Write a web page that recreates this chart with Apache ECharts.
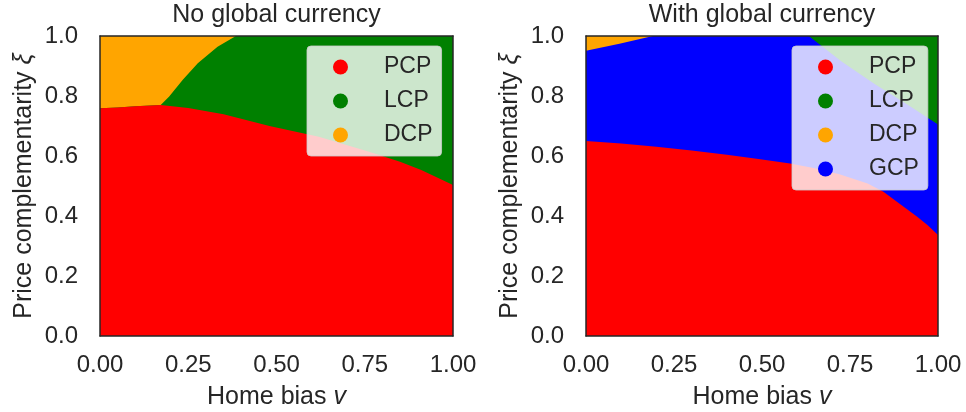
<!DOCTYPE html>
<html>
<head>
<meta charset="utf-8">
<script src="https://cdn.jsdelivr.net/npm/echarts@6/dist/echarts.min.js"></script>
<style>
  html, body { margin: 0; padding: 0; background: #ffffff; }
  #chart { width: 966px; height: 412px; }
</style>
</head>
<body>
<div id="chart"></div>
<script>
// ---- labels ----
const panelTitles = ['No global currency', 'With global currency'];
const xTickLabels = ['0.00', '0.25', '0.50', '0.75', '1.00'];
const yTickLabels = ['0.0', '0.2', '0.4', '0.6', '0.8', '1.0'];
const regimeColors = { PCP: '#ff0000', LCP: '#008000', DCP: '#ffa500', GCP: '#0000ff' };

// ---- axis domain (home bias v, price complementarity xi) ----
const vRange = [0, 1];
const xiRange = [0, 1];

// ---- No global currency: regime frontiers ----
// upper edge of the PCP region
const pcpEdgeV1  = [0.000, 0.050, 0.100, 0.172, 0.250, 0.350, 0.480, 0.620, 0.760, 0.850, 0.910, 1.000];
const pcpEdgeXi1 = [0.759, 0.762, 0.766, 0.770, 0.760, 0.739, 0.700, 0.664, 0.615, 0.581, 0.553, 0.503];
// frontier between DCP (left) and LCP (right)
const dcpLcpV1  = [0.172, 0.196, 0.234, 0.277, 0.333, 0.385];
const dcpLcpXi1 = [0.770, 0.798, 0.853, 0.909, 0.964, 1.000];

// ---- With global currency: regime frontiers ----
// upper edge of the PCP region
const pcpEdgeV2  = [0.000, 0.100, 0.200, 0.300, 0.400, 0.490, 0.580, 0.650, 0.720, 0.800, 0.845, 0.890, 0.940, 0.970, 1.000];
const pcpEdgeXi2 = [0.650, 0.642, 0.631, 0.618, 0.604, 0.590, 0.575, 0.559, 0.539, 0.508, 0.481, 0.442, 0.398, 0.370, 0.337];
// frontier between DCP (top-left corner) and GCP
const dcpGcpV2  = [0.000, 0.095, 0.190];
const dcpGcpXi2 = [0.951, 0.974, 1.000];
// frontier between GCP and LCP (top-right corner)
const lcpGcpV2  = [0.633, 0.726, 0.820, 0.915, 1.000];
const lcpGcpXi2 = [1.000, 0.915, 0.840, 0.770, 0.705];

const zip = (a, b) => a.map((v, i) => [v, b[i]]);

// ---- region outlines built from the frontiers ----
const [v0, v1] = vRange, [x0, x1] = xiRange;
const square = [[v0, x0], [v1, x0], [v1, x1], [v0, x1]];

const pcp1 = zip(pcpEdgeV1, pcpEdgeXi1);
const dcpLcp1 = zip(dcpLcpV1, dcpLcpXi1);
const regions1 = [
  ['LCP', square],
  ['DCP', [[v0, x1]].concat(pcp1.filter(p => p[0] <= dcpLcpV1[0]), dcpLcp1)],
  ['PCP', [[v0, x0], [v1, x0]].concat(pcp1.slice().reverse())]
];

const pcp2 = zip(pcpEdgeV2, pcpEdgeXi2);
const regions2 = [
  ['GCP', square],
  ['DCP', [[v0, x1]].concat(zip(dcpGcpV2, dcpGcpXi2))],
  ['LCP', zip(lcpGcpV2, lcpGcpXi2).concat([[v1, x1]])],
  ['PCP', [[v0, x0], [v1, x0]].concat(pcp2.slice().reverse())]
];

// ---- styling ----
const ink = '#262626';
const font = 'Liberation Sans, Arial, sans-serif';

function regionSeries(name, gi, pts) {
  return {
    type: 'custom',
    name: name,
    coordinateSystem: 'cartesian2d',
    xAxisIndex: gi * 2,
    yAxisIndex: gi * 2,
    data: [pts[0]],
    clip: true,
    silent: true,
    z: 2,
    itemStyle: { color: regimeColors[name] },
    renderItem: function (params, api) {
      return {
        type: 'polygon',
        shape: { points: pts.map(p => api.coord(p)) },
        style: { fill: regimeColors[name], stroke: null }
      };
    }
  };
}

const frameLine = { show: true, onZero: false, lineStyle: { color: ink, width: 1.5 } };
const nameRich = {
  n: { fontSize: 25, color: ink, fontFamily: font },
  i: { fontSize: 25, color: ink, fontFamily: font, fontStyle: 'italic' }
};

function xAxesFor(gi) {
  return [
    {
      type: 'value', gridIndex: gi, position: 'bottom',
      min: vRange[0], max: vRange[1], interval: 0.25,
      axisLine: frameLine, axisTick: { show: false }, splitLine: { show: false },
      axisLabel: {
        margin: 17, fontSize: 24, color: ink, fontFamily: font,
        showMinLabel: true, showMaxLabel: true,
        formatter: v => xTickLabels[Math.round(v / 0.25)]
      },
      name: '{n|Home bias }{i|v}', nameLocation: 'middle', nameGap: 49,
      nameTextStyle: { fontSize: 25, color: ink, fontFamily: font, rich: nameRich },
      z: 10
    },
    {
      type: 'value', gridIndex: gi, position: 'top',
      min: vRange[0], max: vRange[1], interval: 0.25,
      axisLine: frameLine, axisTick: { show: false }, splitLine: { show: false },
      axisLabel: { show: false }, z: 10
    }
  ];
}

function yAxesFor(gi) {
  return [
    {
      type: 'value', gridIndex: gi, position: 'left',
      min: xiRange[0], max: xiRange[1], interval: 0.2,
      axisLine: frameLine, axisTick: { show: false }, splitLine: { show: false },
      axisLabel: {
        margin: 22, fontSize: 24, color: ink, fontFamily: font,
        showMinLabel: true, showMaxLabel: true,
        formatter: v => yTickLabels[Math.round(v / 0.2)]
      },
      name: '{n|Price complementarity }{i|ξ}', nameLocation: 'middle', nameGap: 63,
      nameTextStyle: { fontSize: 25, color: ink, fontFamily: font, rich: nameRich },
      z: 10
    },
    {
      type: 'value', gridIndex: gi, position: 'right',
      min: xiRange[0], max: xiRange[1], interval: 0.2,
      axisLine: frameLine, axisTick: { show: false }, splitLine: { show: false },
      axisLabel: { show: false }, z: 10
    }
  ];
}

function legendFor(names, left) {
  return {
    data: names,
    orient: 'vertical',
    left: left, top: 46,
    icon: 'circle',
    itemWidth: 15, itemHeight: 15, itemGap: 10,
    padding: [9, 9, 9, 26],
    backgroundColor: 'rgba(255,255,255,0.8)',
    borderColor: 'rgba(204,204,204,0.8)',
    borderWidth: 1,
    borderRadius: 4,
    selectedMode: false,
    textStyle: { fontSize: 23, lineHeight: 24, color: ink, fontFamily: font, padding: [0, 0, 0, 31] }
  };
}

const option = {
  animation: false,
  backgroundColor: '#ffffff',
  title: [
    { text: panelTitles[0], left: 276.5, top: 3, textAlign: 'center', padding: 0,
      textStyle: { fontSize: 25, fontWeight: 'normal', color: ink, fontFamily: font } },
    { text: panelTitles[1], left: 762, top: 3, textAlign: 'center', padding: 0,
      textStyle: { fontSize: 25, fontWeight: 'normal', color: ink, fontFamily: font } }
  ],
  grid: [
    { left: 100, top: 36, width: 353, height: 300, outerBoundsMode: 'none' },
    { left: 586, top: 36, width: 352, height: 300, outerBoundsMode: 'none' }
  ],
  xAxis: xAxesFor(0).concat(xAxesFor(1)),
  yAxis: yAxesFor(0).concat(yAxesFor(1)),
  legend: [
    legendFor(['PCP', 'LCP', 'DCP'], 307),
    legendFor(['PCP', 'LCP', 'DCP', 'GCP'], 792)
  ],
  series: regions1.map(r => regionSeries(r[0], 0, r[1]))
    .concat(regions2.map(r => regionSeries(r[0], 1, r[1])))
};

const chart = echarts.init(document.getElementById('chart'), null, { renderer: 'canvas' });
chart.setOption(option);
</script>
</body>
</html>
